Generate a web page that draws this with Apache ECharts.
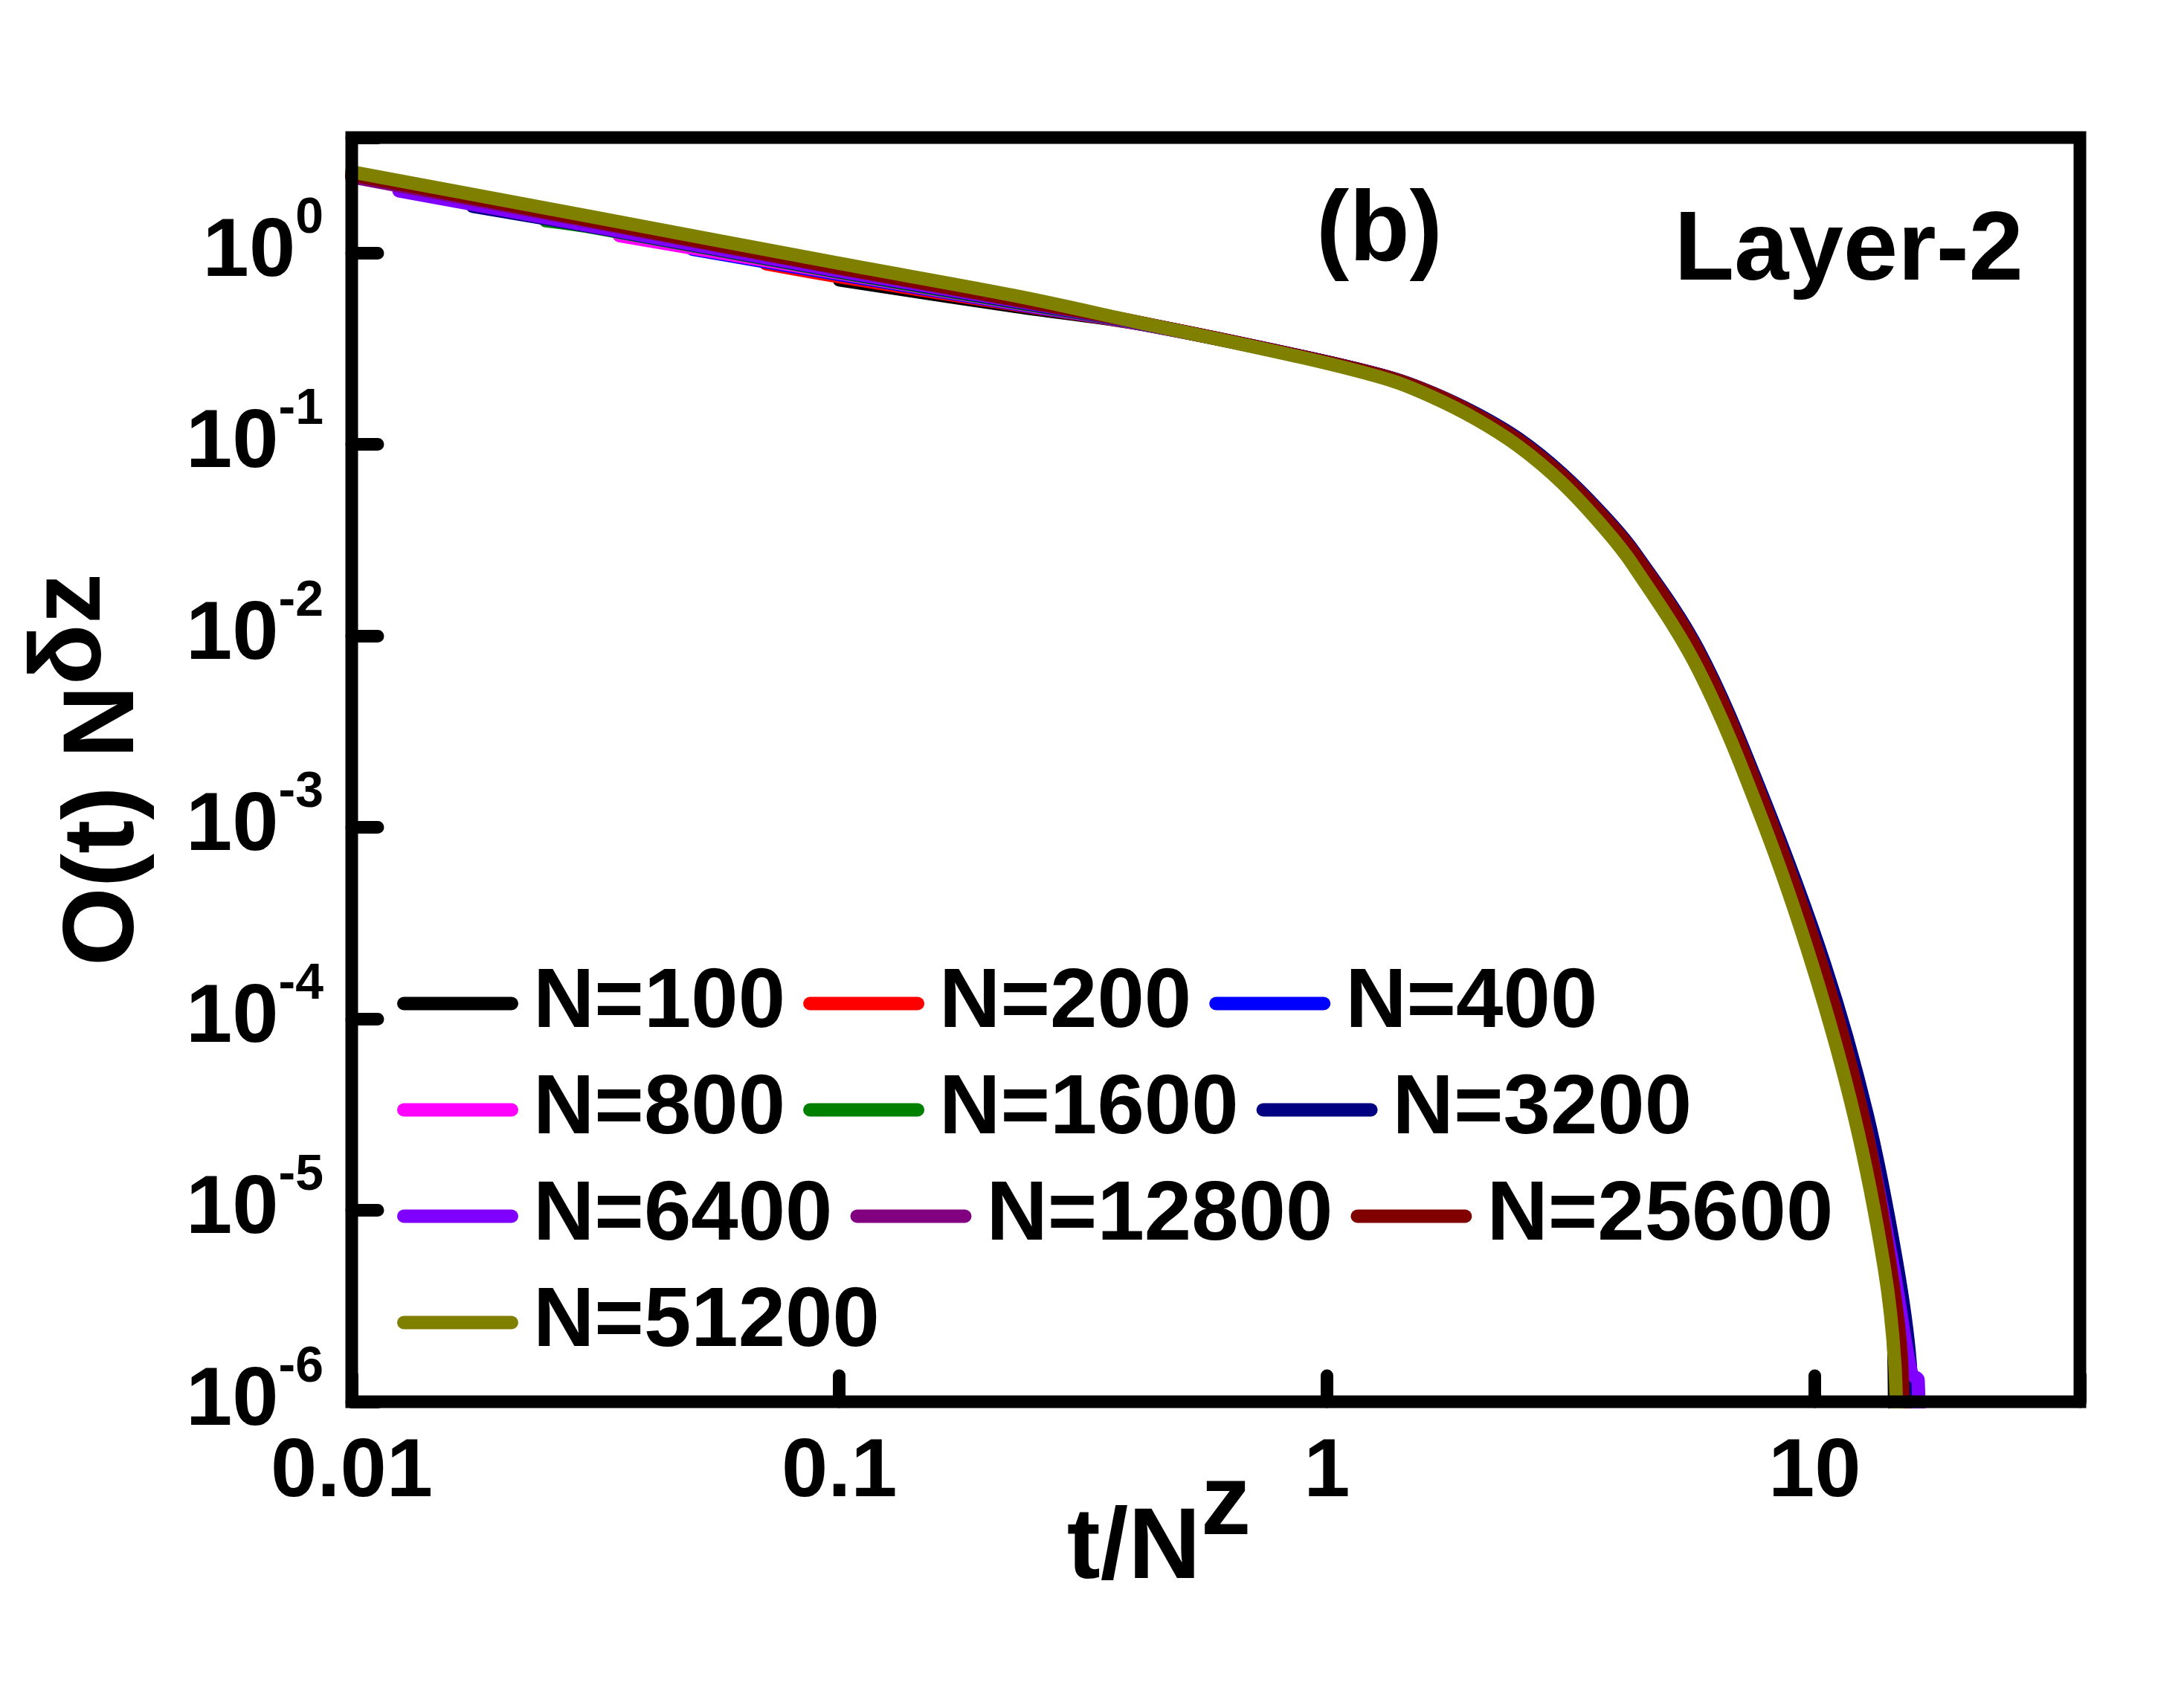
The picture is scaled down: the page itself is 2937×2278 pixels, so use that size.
<!DOCTYPE html>
<html>
<head>
<meta charset="utf-8">
<script src="https://cdn.jsdelivr.net/npm/echarts@6/dist/echarts.min.js"></script>
<style>
html, body { margin: 0; padding: 0; background: #fff; }
#main { width: 2937px; height: 2278px; }
</style>
</head>
<body>
<div id="main"></div>
<script>
var FONT = 'Liberation Sans, Arial, sans-serif';

var seriesNames = ['N=100', 'N=200', 'N=400', 'N=800', 'N=1600', 'N=3200', 'N=6400', 'N=12800', 'N=25600', 'N=51200'];
var seriesColors = ['#000000', '#ff0000', '#0000ff', '#ff00ff', '#008000', '#000080', '#8000ff', '#800080', '#800000', '#808000'];
var xTickText = ['0.01', '0.1', '1', '10'];

// knee + tail shared by the N<=25600 curves
var kneeShared = [[0.90, 0.285], [1.35, 0.222], [1.65, 0.184], [2.02, 0.143], [2.47, 0.105], [3.03, 0.069],
    [3.71, 0.041], [4.25, 0.0272], [5.77, 0.0082], [7.80, 0.0014], [10.4, 1.82e-4], [12.6, 3.0e-5]];

// start of each curve (t = 1 means t/N^z = N^-0.5) and its end at the bottom
var headN100 = [[0.1, 0.723], [0.23, 0.525], [0.405, 0.429]];
var endN100 = [[13.8, 6e-6], [14.5, 2.5e-6], [14.6, 5e-7]];
var headN200 = [[0.0707, 0.877], [0.1, 0.750], [0.23, 0.535], [0.405, 0.430]];
var endN200 = [[14.0, 5e-6], [14.8, 2e-6], [14.9, 5e-7]];
var headN400 = [[0.05, 1.045], [0.1, 0.771], [0.23, 0.540], [0.405, 0.431]];
var endN400 = [[14.2, 5e-6], [14.9, 1.8e-6], [15.0, 5e-7]];
var headN800 = [[0.0354, 1.23], [0.1, 0.783], [0.23, 0.545], [0.405, 0.432]];
var endN800 = [[14.3, 4.5e-6], [15.0, 1.5e-6], [15.1, 5e-7]];
var headN1600 = [[0.025, 1.47], [0.0316, 1.35], [0.1, 0.791], [0.23, 0.550], [0.405, 0.433]];
var endN1600 = [[14.5, 5e-6], [15.4, 1.3e-6], [15.5, 5e-7]];
var dataN3200 = [[0.0177, 1.75], [0.0316, 1.36], [0.1, 0.798], [0.23, 0.555], [0.405, 0.434], [0.90, 0.286],
    [1.35, 0.223], [1.65, 0.185], [2.02, 0.145], [2.47, 0.107], [3.03, 0.0705], [3.71, 0.042], [4.25, 0.0278],
    [5.77, 0.0085], [7.80, 0.00148], [10.5, 1.9e-4], [12.8, 3.2e-5], [14.7, 5.5e-6], [15.7, 1.6e-6], [15.9, 5e-7]];
var headN6400 = [[0.0125, 2.11], [0.0316, 1.37], [0.1, 0.805], [0.23, 0.560], [0.405, 0.435]];
var endN6400 = [[14.5, 5e-6], [15.8, 1.4e-6], [16.3, 1.3e-6], [16.4, 5e-7]];
var headN12800 = [[0.01, 2.49], [0.0316, 1.44], [0.1, 0.828], [0.23, 0.565], [0.405, 0.436]];
var endN12800 = [[14.3, 5.2e-6], [15.0, 1.6e-6], [15.1, 5e-7]];
var headN25600 = [[0.01, 2.56], [0.0316, 1.46], [0.1, 0.836], [0.23, 0.570], [0.405, 0.437]];
var endN25600 = [[14.3, 5e-6], [15.1, 1.5e-6], [15.2, 5e-7]];
var dataN51200 = [[0.01, 2.65], [0.0316, 1.53], [0.1, 0.881], [0.23, 0.596], [0.405, 0.437], [0.90, 0.282],
    [1.35, 0.216], [1.65, 0.176], [2.02, 0.1355], [2.47, 0.0977], [3.03, 0.0631], [3.71, 0.0363], [4.25, 0.0233],
    [5.77, 0.00668], [7.80, 0.0011], [9.95, 1.82e-4], [12.1, 3.0e-5], [13.9, 5.0e-6], [14.6, 1.6e-6], [14.75, 5e-7]];

var seriesData = [
    headN100.concat(kneeShared, endN100),
    headN200.concat(kneeShared, endN200),
    headN400.concat(kneeShared, endN400),
    headN800.concat(kneeShared, endN800),
    headN1600.concat(kneeShared, endN1600),
    dataN3200,
    headN6400.concat(kneeShared, endN6400),
    headN12800.concat(kneeShared, endN12800),
    headN25600.concat(kneeShared, endN25600),
    dataN51200
];

function isDecade(v) {
    var e = Math.log(v) / Math.LN10;
    return Math.abs(e - Math.round(e)) < 1e-6;
}

var chart = echarts.init(document.getElementById('main'));

var seriesArr = [];
for (var i = 0; i < seriesNames.length; i++) {
    seriesArr.push({
        name: seriesNames[i],
        type: 'line',
        data: seriesData[i],
        showSymbol: false,
        symbol: 'none',
        clip: true,
        smooth: 0.35,
        lineStyle: { width: 18, color: seriesColors[i], cap: 'round', join: 'round' },
        itemStyle: { color: seriesColors[i] }
    });
}

var option = {
    animation: false,
    backgroundColor: '#fff',
    color: seriesColors,
    grid: {
        left: 473, top: 185, width: 2324, height: 1700,
        show: true, borderColor: '#000', borderWidth: 17, z: 10,
        containLabel: false, outerBoundsMode: 'none'
    },
    legend: {
        left: 529, top: 1285, width: 2050,
        orient: 'horizontal',
        itemWidth: 163, itemHeight: 18, itemGap: 24,
        icon: 'path://M9,0H154A9,9,0,0,1,154,18H9A9,9,0,0,1,9,0Z',
        textStyle: {
            fontSize: 114, fontWeight: 'bold', fontFamily: FONT, color: '#000',
            lineHeight: 65, padding: [0, 0, 54, 15]
        },
        data: seriesNames
    },
    xAxis: {
        type: 'log', logBase: 10, min: 0.01, max: 35, z: 10,
        axisLine: { show: false },
        axisTick: { show: true, inside: true, length: 35, lineStyle: { color: '#000', width: 17, cap: 'round' } },
        minorTick: { show: false },
        splitLine: { show: false },
        axisLabel: {
            margin: 40, fontSize: 112, lineHeight: 112, fontWeight: 'bold', fontFamily: FONT, color: '#000',
            formatter: function (v) {
                if (!isDecade(v)) return '';
                return xTickText[Math.round(Math.log(v) / Math.LN10) + 2];
            }
        },
        name: '{a|t/N}{b|z}',
        nameLocation: 'middle',
        nameGap: 73,
        nameMoveOverlap: false,
        nameTextStyle: {
            padding: [0, 153, 0, 0],
            rich: {
                a: { fontSize: 135, fontWeight: 'bold', fontFamily: FONT, color: '#000', lineHeight: 253 },
                b: { fontSize: 135, fontWeight: 'bold', fontFamily: FONT, color: '#000', lineHeight: 135, verticalAlign: 'top' }
            }
        }
    },
    yAxis: {
        type: 'log', logBase: 10, min: 1e-6, max: 4, z: 10,
        axisLine: { show: false },
        axisTick: { show: true, inside: true, length: 35, lineStyle: { color: '#000', width: 17, cap: 'round' } },
        minorTick: { show: false },
        splitLine: { show: false },
        axisLabel: {
            margin: 38,
            formatter: function (v) {
                if (!isDecade(v)) return '';
                return '{m|10}{s|' + Math.round(Math.log(v) / Math.LN10) + '}';
            },
            rich: {
                m: { fontSize: 112, fontWeight: 'bold', fontFamily: FONT, color: '#000', lineHeight: 160 },
                s: { fontSize: 68, fontWeight: 'bold', fontFamily: FONT, color: '#000', lineHeight: 68, verticalAlign: 'top' }
            }
        },
        name: '{a|O(t) N}{b|δz}',
        nameLocation: 'middle',
        nameGap: 218,
        nameMoveOverlap: false,
        nameTextStyle: {
            rich: {
                a: { fontSize: 136, fontWeight: 'bold', fontFamily: FONT, color: '#000', lineHeight: 227 },
                b: { fontSize: 136, fontWeight: 'bold', fontFamily: FONT, color: '#000', lineHeight: 136, verticalAlign: 'top' }
            }
        }
    },
    graphic: [
        {
            type: 'text', x: 1855, y: 313, z: 20,
            style: {
                text: '(b)', fontSize: 133, fontWeight: 'bold', fontFamily: FONT, fill: '#000',
                align: 'center', verticalAlign: 'middle', textAlign: 'center', textVerticalAlign: 'middle'
            }
        },
        {
            type: 'text', x: 2721, y: 340, z: 20,
            style: {
                text: 'Layer-2', fontSize: 132, fontWeight: 'bold', fontFamily: FONT, fill: '#000',
                align: 'right', verticalAlign: 'middle', textAlign: 'right', textVerticalAlign: 'middle'
            }
        }
    ],
    series: seriesArr
};

chart.setOption(option);
</script>
</body>
</html>
